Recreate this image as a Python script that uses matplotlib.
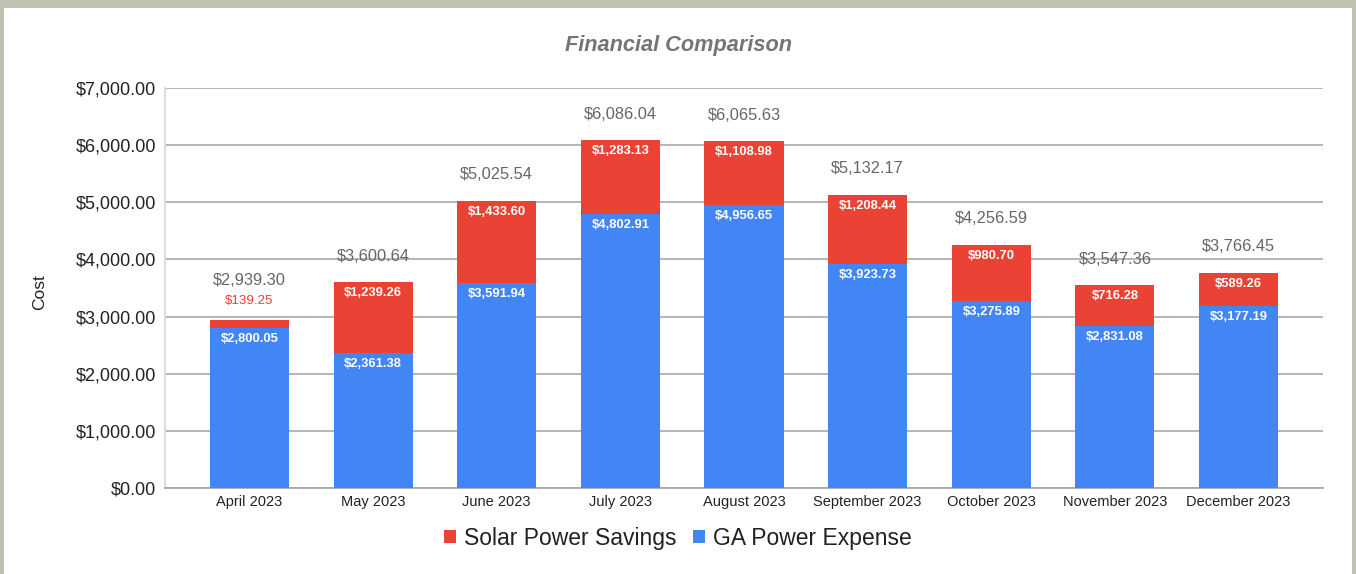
import matplotlib
matplotlib.use("Agg")
import matplotlib.pyplot as plt
from matplotlib.patches import Rectangle, Patch
import numpy as np

plt.rcParams['font.family'] = ['Liberation Sans', 'DejaVu Sans']

months = ["April 2023", "May 2023", "June 2023", "July 2023", "August 2023",
          "September 2023", "October 2023", "November 2023", "December 2023"]
ga_expense = [2800.05, 2361.38, 3591.94, 4802.91, 4956.65, 3923.73, 3275.89, 2831.08, 3177.19]
solar_savings = [139.25, 1239.26, 1433.60, 1283.13, 1108.98, 1208.44, 980.70, 716.28, 589.26]
yticks = [0, 1000, 2000, 3000, 4000, 5000, 6000, 7000]

RED = "#EA4335"
BLUE = "#4285F4"

W, H = 1356, 574
fig = plt.figure(figsize=(W / 100, H / 100), dpi=100)
fig.patch.set_facecolor("#c0c1b0")
fig.add_artist(Rectangle((4 / W, 0), (1352 - 4) / W, (H - 8) / H,
                         transform=fig.transFigure, facecolor="white",
                         edgecolor="none", zorder=0))

ax = fig.add_axes([165 / W, 1 - 488 / H, (1323 - 165) / W, (488 - 88) / H])
ax.set_facecolor("white")

x = np.arange(len(months))
ga = np.array(ga_expense)
sol = np.array(solar_savings)
tot = ga + sol
bw = 0.64

ax.bar(x, ga, bw, color=BLUE, zorder=3, label="GA Power Expense")
ax.bar(x, sol, bw, bottom=ga, color=RED, zorder=3, label="Solar Power Savings")

ax.set_xlim(-0.683, len(months) - 1 + 0.683)
ax.set_ylim(0, 7000)
ax.set_yticks(yticks)
ax.set_yticklabels([f"${v:,.2f}" for v in yticks])
ax.set_xticks(x)
ax.set_xticklabels(months)
ax.tick_params(axis="y", length=0, pad=6.5, labelsize=13, labelcolor="#222222")
ax.tick_params(axis="x", length=0, pad=5, labelsize=10.5, labelcolor="#222222")
ax.grid(axis="y", color="#b0b0b0", linewidth=1.3, zorder=1)
ax.set_axisbelow(True)
for s in ["top", "right"]:
    ax.spines[s].set_visible(False)
ax.spines["left"].set_color("#dddddd")
ax.spines["left"].set_linewidth(1.5)
ax.spines["bottom"].set_color("#a8a8a8")
ax.spines["bottom"].set_linewidth(1.3)

px = 0.72  # points per pixel at 100 dpi
for i in range(len(months)):
    # inner label in blue segment
    ax.annotate(f"${ga[i]:,.2f}", (x[i], ga[i]), xytext=(0, -11 * px),
                textcoords="offset points", ha="center", va="center",
                color="white", fontsize=9.4, fontweight="bold", zorder=5)
    if sol[i] < 400:
        ax.annotate(f"${sol[i]:,.2f}", (x[i], tot[i]), xytext=(0, 19 * px),
                    textcoords="offset points", ha="center", va="center",
                    color=RED, fontsize=9.6, zorder=5)
        off = 40
    else:
        ax.annotate(f"${sol[i]:,.2f}", (x[i], tot[i]), xytext=(0, -11 * px),
                    textcoords="offset points", ha="center", va="center",
                    color="white", fontsize=9.4, fontweight="bold", zorder=5)
        off = 26
    ax.annotate(f"${tot[i]:,.2f}", (x[i], tot[i]), xytext=(0, off * px),
                textcoords="offset points", ha="center", va="center",
                color="#666666", fontsize=11.8, zorder=5)

fig.text(678.5 / W, 1 - 46 / H, "Financial Comparison", ha="center", va="center",
         fontsize=15.7, fontweight="bold", fontstyle="italic", color="#757575")
fig.text(40 / W, 1 - 292 / H, "Cost", rotation=90, ha="center", va="center",
         fontsize=12.5, color="#222222")

handles = [Patch(facecolor=RED, edgecolor="none"), Patch(facecolor=BLUE, edgecolor="none")]
fig.legend(handles, ["Solar Power Savings", "GA Power Expense"],
           loc="center", bbox_to_anchor=(678 / W, 1 - 538 / H), ncol=2,
           frameon=False, fontsize=16.5, handlelength=0.5, handleheight=0.5,
           handletextpad=0.35, columnspacing=0.75, labelcolor="#222222",
           borderpad=0, borderaxespad=0)

fig.savefig("out.png", dpi=100, facecolor=fig.get_facecolor())
